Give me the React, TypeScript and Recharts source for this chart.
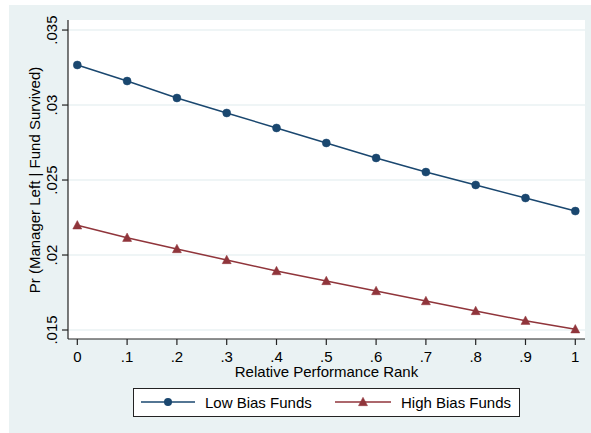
import React from 'react';
import { LineChart, Line, XAxis, YAxis, CartesianGrid, Legend } from 'recharts';

const rank = [0, 0.1, 0.2, 0.3, 0.4, 0.5, 0.6, 0.7, 0.8, 0.9, 1];
const lowBias = [0.03267, 0.0316, 0.03047, 0.02947, 0.02847, 0.02747, 0.02647, 0.02553, 0.02467, 0.0238, 0.02293];
const highBias = [0.02198, 0.02115, 0.0204, 0.01967, 0.01893, 0.01827, 0.0176, 0.01693, 0.01627, 0.01562, 0.01505];
const xTicks = [0, 0.1, 0.2, 0.3, 0.4, 0.5, 0.6, 0.7, 0.8, 0.9, 1];
const xTickLabels = ['0', '.1', '.2', '.3', '.4', '.5', '.6', '.7', '.8', '.9', '1'];
const yTicks = [0.015, 0.02, 0.025, 0.03, 0.035];
const yTickLabels = ['.015', '.02', '.025', '.03', '.035'];
const seriesNames = ['Low Bias Funds', 'High Bias Funds'];
const xTitle = 'Relative Performance Rank';
const yTitle = 'Pr (Manager Left | Fund Survived)';

const LOW = '#1a476f';
const HIGH = '#90353b';
const BG = '#eaf2f3';
const AXIS = '#222';
const FONT = '"Liberation Sans", Arial, sans-serif';

const data = rank.map((r, i) => ({ rank: r, low: lowBias[i], high: highBias[i] }));

const Triangle = (props: any) => {
  const { cx, cy, fill, size = 4.5 } = props;
  if (cx == null || cy == null) return null;
  const h = size * 1.8;
  return (
    <polygon
      points={`${cx - size},${cy + h / 2.2} ${cx + size},${cy + h / 2.2} ${cx},${cy - h / 1.7}`}
      fill={fill}
      stroke={fill}
      strokeWidth={0.5}
    />
  );
};

const YTick = (props: any) => {
  const { y, payload } = props;
  const idx = yTicks.indexOf(payload.value);
  const tx = 57;
  return (
    <text
      x={tx}
      y={y}
      transform={`rotate(-90, ${tx}, ${y})`}
      textAnchor="middle"
      fontSize={15}
      fontFamily={FONT}
      fill="#000"
    >
      {idx >= 0 ? yTickLabels[idx] : payload.value}
    </text>
  );
};

const XTick = (props: any) => {
  const { x, payload } = props;
  const idx = xTicks.indexOf(payload.value);
  return (
    <text x={x} y={362} textAnchor="middle" fontSize={15} fontFamily={FONT} fill="#000">
      {idx >= 0 ? xTickLabels[idx] : payload.value}
    </text>
  );
};

const LegendBox = () => (
  <svg width={387} height={29} style={{ display: 'block' }}>
    <rect x={0.5} y={0.5} width={386} height={28} fill="#fff" stroke={AXIS} strokeWidth={1} />
    <line x1={8} x2={62} y1={14} y2={14} stroke={LOW} strokeWidth={1.5} />
    <circle cx={35} cy={14} r={4} fill={LOW} />
    <text x={72} y={20} fontSize={15} fontFamily={FONT} fill="#000">{seriesNames[0]}</text>
    <line x1={202} x2={258} y1={14} y2={14} stroke={HIGH} strokeWidth={1.5} />
    <Triangle cx={230} cy={14} fill={HIGH} />
    <text x={268} y={20} fontSize={15} fontFamily={FONT} fill="#000">{seriesNames[1]}</text>
  </svg>
);

export default function App() {
  return (
    <div style={{ position: 'absolute', left: 0, top: 0, width: 591, height: 433, background: '#fff' }}>
      <div style={{ position: 'absolute', left: 9, top: 5, width: 582, height: 428, background: BG }} />
      <div style={{ position: 'absolute', left: 0, top: 0 }}>
        <LineChart width={591} height={433} data={data} margin={{ top: 20, right: 6, left: 0, bottom: 0 }}>
          <CartesianGrid vertical={false} horizontal={true} fill="#fff" stroke={BG} strokeWidth={1.5} horizontalValues={yTicks} />
          <XAxis
            dataKey="rank"
            type="number"
            domain={[-0.0187, 1.0195]}
            ticks={xTicks}
            allowDataOverflow
            height={94}
            tickSize={6}
            tickLine={{ stroke: AXIS, strokeWidth: 1.2 }}
            axisLine={{ stroke: AXIS, strokeWidth: 1.2 }}
            tick={<XTick />}
            interval={0}
          />
          <YAxis
            type="number"
            domain={[0.0144, 0.03567]}
            ticks={yTicks}
            allowDataOverflow
            width={68}
            tickSize={6}
            tickLine={{ stroke: AXIS, strokeWidth: 1.2 }}
            axisLine={{ stroke: AXIS, strokeWidth: 1.2 }}
            tick={<YTick />}
            interval={0}
          />
          <Legend
            layout="horizontal"
            verticalAlign="middle"
            wrapperStyle={{ position: 'absolute', left: 133, top: 388, width: 387, height: 29 }}
            content={() => <LegendBox />}
          />
          <Line
            type="linear"
            dataKey="low"
            name={seriesNames[0]}
            stroke={LOW}
            strokeWidth={1.5}
            dot={{ r: 4, fill: LOW, stroke: LOW, strokeWidth: 0.5 }}
            activeDot={false}
            isAnimationActive={false}
          />
          <Line
            type="linear"
            dataKey="high"
            name={seriesNames[1]}
            stroke={HIGH}
            strokeWidth={1.5}
            dot={(p: any) => <Triangle key={p.index} cx={p.cx} cy={p.cy} fill={HIGH} />}
            activeDot={false}
            isAnimationActive={false}
          />
        </LineChart>
      </div>
      <svg style={{ position: 'absolute', left: 0, top: 0, pointerEvents: 'none' }} width={591} height={433}>
        <text
          x={40}
          y={180}
          transform="rotate(-90, 40, 180)"
          textAnchor="middle"
          fontSize={15}
          fontFamily={FONT}
          fill="#000"
        >
          {yTitle}
        </text>
        <text x={326.5} y={377} textAnchor="middle" fontSize={15} fontFamily={FONT} fill="#000">
          {xTitle}
        </text>
      </svg>
    </div>
  );
}
